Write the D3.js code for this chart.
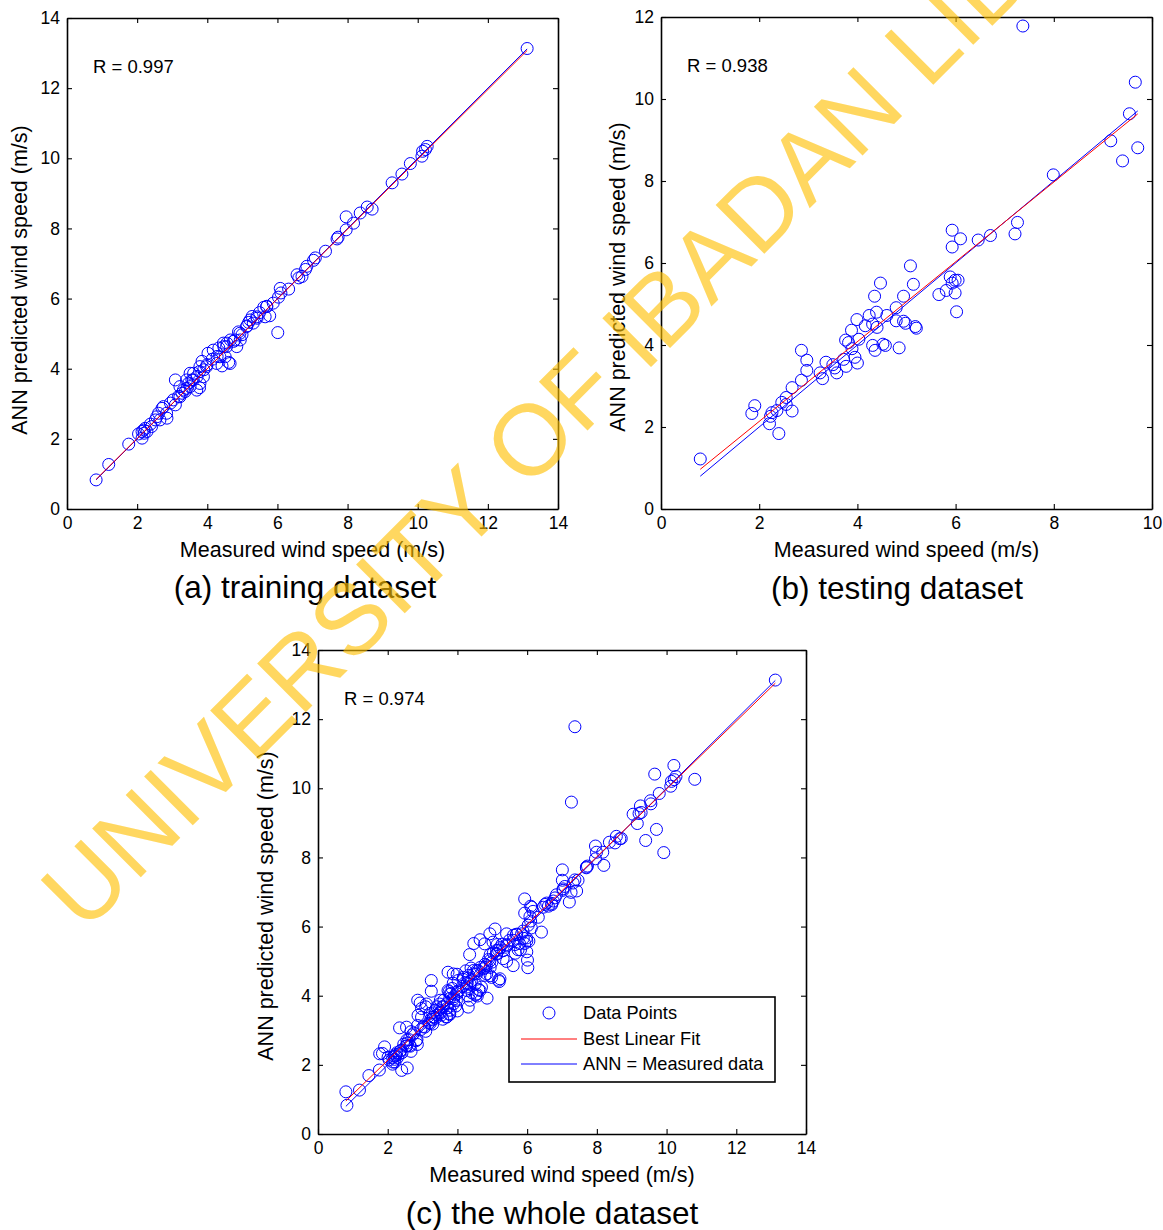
<!DOCTYPE html>
<html>
<head>
<meta charset="utf-8">
<script src="https://cdn.jsdelivr.net/npm/d3@7"></script>
<style>
  body { margin: 0; background: #fff; }
</style>
</head>
<body>
<div id="chart"></div>
<script>
// points: [measured, ANN predicted]
var trainPts = [
  [13.12,13.13],[10.27,10.34],[10.14,10.20],[10.12,10.06],[10.22,10.25],[9.79,9.85],[9.55,9.55],[9.27,9.30],
  [8.70,8.55],[8.56,8.61],[8.36,8.44],[8.17,8.15],[7.96,8.33],[7.96,7.96],[7.70,7.70],[7.73,7.75],[7.37,7.35],
  [7.08,7.16],[7.03,7.09],[6.84,6.92],[6.80,6.83],[6.70,6.63],[6.61,6.59],[6.56,6.68],[6.32,6.27],[6.08,6.29],
  [6.10,6.16],[6.03,6.04],[6.01,5.03],[5.78,5.51],[5.70,5.78],[5.61,5.75],[5.49,5.60],[5.42,5.44],[5.28,5.49],
  [5.18,5.32],[5.13,5.22],[4.99,4.97],[4.94,4.82],[4.89,5.05],[4.75,4.78],[4.66,4.82],[4.56,4.73],[4.47,4.63],
  [4.33,4.59],[4.61,4.18],[4.42,4.08],[4.28,4.35],[4.14,4.27],[4.02,4.44],[3.99,4.11],[3.85,4.21],[3.90,3.97],
  [3.78,3.92],[3.71,3.78],[3.78,3.46],[3.61,3.87],[3.56,3.68],[3.47,3.59],[3.42,3.44],[3.37,3.35],[3.28,3.30],
  [3.09,3.68],[3.18,3.21],[3.09,2.97],[2.95,3.02],[2.85,2.59],[2.71,2.87],[2.61,2.73],[2.52,2.54],[2.38,2.42],
  [2.23,2.30],[2.14,2.21],[2.14,2.02],[2.04,2.14],[2.28,2.21],[2.20,2.16],[2.19,2.25],[1.76,1.85],[1.19,1.27],
  [0.83,0.83],[2.56,2.63],[2.84,2.73],[2.75,2.92],[3.03,3.11],[3.22,3.20],[3.32,3.39],[3.51,3.49],[3.60,3.68],
  [3.51,3.87],[3.79,3.58],[3.70,3.39],[3.89,3.77],[3.98,4.06],[4.27,4.15],[4.36,4.34],[4.55,4.63],[4.65,4.15],
  [4.46,4.73],[4.79,4.82],[4.93,5.01],[4.84,4.63],[5.12,5.20],[5.22,5.39],[5.41,5.48],[5.31,5.30],[5.65,5.48],
  [5.69,5.77],[5.88,5.87],[3.41,3.68],[3.22,3.49],[3.79,4.06],[4.17,4.53],[4.51,4.34],[2.41,2.35],[2.65,2.54]
];

var testPts = [
  [7.37,11.78],[9.66,10.41],[9.54,9.64],[9.16,8.98],[9.71,8.81],[9.40,8.49],[7.99,8.15],[7.26,6.99],[7.21,6.71],
  [6.71,6.67],[6.46,6.56],[5.93,6.80],[6.10,6.59],[5.93,6.39],[5.08,5.93],[4.47,5.51],[5.14,5.48],[4.35,5.19],
  [4.94,5.19],[5.66,5.23],[5.81,5.33],[5.89,5.66],[5.99,5.58],[6.05,5.58],[5.93,5.51],[5.99,5.27],[6.02,4.81],
  [4.79,4.91],[4.60,4.72],[4.39,4.80],[4.24,4.72],[3.99,4.62],[4.16,4.47],[4.31,4.51],[4.40,4.43],[4.79,4.59],
  [4.94,4.58],[4.98,4.53],[5.18,4.45],[5.20,4.41],[3.88,4.36],[4.03,4.14],[3.76,4.12],[3.82,4.06],[4.31,3.99],
  [4.36,3.87],[4.52,4.02],[4.57,3.99],[4.85,3.93],[3.89,3.91],[3.95,3.70],[4.00,3.56],[3.77,3.48],[3.72,3.65],
  [2.86,3.87],[2.97,3.63],[2.97,3.38],[2.86,3.14],[3.36,3.58],[3.24,3.32],[3.29,3.18],[3.50,3.52],[3.54,3.44],
  [3.58,3.32],[2.67,2.96],[2.55,2.72],[2.46,2.60],[2.55,2.55],[2.67,2.39],[2.36,2.40],[2.26,2.35],[2.23,2.26],
  [2.21,2.08],[2.40,1.84],[1.91,2.52],[1.85,2.33],[0.80,1.22]
];

// extra points that only appear in the whole dataset
var validPts = [
  [7.27,9.60],[10.21,10.66],[10.81,10.26],[9.92,8.14],[9.25,9.49],[8.20,7.77],[7.01,7.64],[7.01,7.34],[7.42,7.03],
  [6.41,5.84],[6.13,6.56],[4.31,3.67],[3.25,4.44],[3.25,4.13],[2.34,3.07],[2.54,3.09],[2.56,1.91],[1.46,1.69],
  [3.73,4.68],[3.88,4.63],[5.60,4.87],[5.22,4.49],[4.78,5.50],[4.93,5.79],[2.87,3.43],[3.11,3.76],[4.65,5.62],
  [2.93,3.79],[4.27,4.37],[5.03,5.24],[9.04,9.25],[9.21,9.27],[8.66,8.54],[8.52,8.42],[7.70,7.72],[7.46,7.34],
  [7.32,7.26],[7.03,7.05],[6.75,6.74],[6.51,6.64],[6.17,6.44],[6.12,5.96],[5.98,5.67],[5.74,5.33],[5.41,4.99],
  [4.69,4.25],[4.55,4.05],[4.26,4.25],[3.97,3.86],[3.73,4.15],[3.49,3.76],[3.68,3.38],[3.30,3.38],[3.06,3.09],
  [2.82,2.70],[2.63,2.56],[2.34,2.32],[2.15,2.08],[2.01,2.22],[1.77,2.32],[5.12,5.31],[4.83,4.87],[5.31,5.07],
  [5.60,5.60],[5.84,5.79],[5.41,5.79],[5.02,5.55]
];

var allPts = trainPts.concat(testPts, validPts);

// best linear fit per panel (a, b, c)
var fitSlope = [0.995, 0.973, 0.981];
var fitIntercept = [0.02, 0.19, 0.17];
var rValues = ["0.997", "0.938", "0.974"];
var panelTitles = ["(a) training dataset", "(b) testing dataset", "(c) the whole dataset"];
var ticks14 = [0, 2, 4, 6, 8, 10, 12, 14];
var ticks12 = [0, 2, 4, 6, 8, 10, 12];
var ticks10 = [0, 2, 4, 6, 8, 10];
var legendLabels = ["Data Points", "Best Linear Fit", "ANN = Measured data"];

var FONT = "'Liberation Sans', Arial, Helvetica, sans-serif";

var svg = d3.select("#chart")
    .append("svg")
    .attr("width", 1163)
    .attr("height", 1230)
    .style("font-family", FONT);

svg.append("rect").attr("width", 1163).attr("height", 1230).attr("fill", "#fff");

var panels = [
  { left: 67, top: 18, w: 491, h: 491, xMax: 14, yMax: 14, xTicks: ticks14, yTicks: ticks14,
    pts: trainPts, k: 0, titleX: 305, titleY: 598, yLabX: 27, yLabY: 280, legend: false },
  { left: 661, top: 17, w: 491, h: 492, xMax: 10, yMax: 12, xTicks: ticks10, yTicks: ticks12,
    pts: testPts, k: 1, titleX: 897, titleY: 599, yLabX: 625, yLabY: 277, legend: false },
  { left: 318, top: 650, w: 488, h: 484, xMax: 14, yMax: 14, xTicks: ticks14, yTicks: ticks14,
    pts: allPts, k: 2, titleX: 552, titleY: 1224, yLabX: 273, yLabY: 906, legend: true }
];

panels.forEach(drawPanel);

function drawPanel(p) {
    var g = svg.append("g")
        .attr("transform", "translate(" + p.left + "," + p.top + ")");

    var x = d3.scaleLinear().domain([0, p.xMax]).range([0, p.w]);
    var y = d3.scaleLinear().domain([0, p.yMax]).range([p.h, 0]);

    // data points
    g.selectAll("circle.pt")
        .data(p.pts)
        .enter()
        .append("circle")
        .attr("class", "pt")
        .attr("cx", function (d) { return x(d[0]); })
        .attr("cy", function (d) { return y(d[1]); })
        .attr("r", 6)
        .attr("fill", "none")
        .attr("stroke", "#0000ff")
        .attr("stroke-width", 1);

    // y = x line and best fit line over the data range
    var ext = d3.extent(p.pts, function (d) { return d[0]; });
    var line = d3.line()
        .x(function (d) { return x(d[0]); })
        .y(function (d) { return y(d[1]); });
    var slope = fitSlope[p.k], icpt = fitIntercept[p.k];

    g.append("path")
        .attr("d", line([[ext[0], ext[0]], [ext[1], ext[1]]]))
        .attr("stroke", "#0000ff")
        .attr("stroke-width", 1)
        .attr("fill", "none");
    g.append("path")
        .attr("d", line([[ext[0], slope * ext[0] + icpt], [ext[1], slope * ext[1] + icpt]]))
        .attr("stroke", "#ff0000")
        .attr("stroke-width", 1)
        .attr("fill", "none");

    // axes with inward ticks on all four sides
    g.append("g")
        .attr("transform", "translate(0," + p.h + ")")
        .call(d3.axisBottom(x).tickValues(p.xTicks).tickSizeInner(-5).tickSizeOuter(0).tickPadding(8));
    g.append("g")
        .call(d3.axisLeft(y).tickValues(p.yTicks).tickSizeInner(-5).tickSizeOuter(0).tickPadding(7));
    g.append("g")
        .call(d3.axisTop(x).tickValues(p.xTicks).tickSizeInner(-5).tickSizeOuter(0).tickFormat(""));
    g.append("g")
        .attr("transform", "translate(" + p.w + ",0)")
        .call(d3.axisRight(y).tickValues(p.yTicks).tickSizeInner(-5).tickSizeOuter(0).tickFormat(""));

    g.selectAll(".domain").attr("stroke", "#000").attr("stroke-width", 1.6);
    g.selectAll(".tick line").attr("stroke", "#000").attr("stroke-width", 1.1);
    g.selectAll("g").attr("font-family", null).attr("font-size", null);
    g.selectAll(".tick text")
        .attr("fill", "#000")
        .style("font-family", FONT)
        .style("font-size", "17.5px");

    // R value
    g.append("text")
        .attr("x", 26)
        .attr("y", 55)
        .style("font-size", "18.5px")
        .text("R = " + rValues[p.k]);

    // axis labels
    svg.append("text")
        .attr("x", p.left + p.w / 2)
        .attr("y", p.top + p.h + 48)
        .attr("text-anchor", "middle")
        .style("font-size", "21.5px")
        .text("Measured wind speed (m/s)");
    svg.append("text")
        .attr("transform", "translate(" + p.yLabX + "," + p.yLabY + ") rotate(-90)")
        .attr("text-anchor", "middle")
        .style("font-size", "21.5px")
        .text("ANN predicted wind speed (m/s)");

    // panel title
    svg.append("text")
        .attr("x", p.titleX)
        .attr("y", p.titleY)
        .attr("text-anchor", "middle")
        .style("font-size", "31.5px")
        .text(panelTitles[p.k]);

    if (p.legend) {
        var lg = g.append("g").attr("transform", "translate(191,347)");
        lg.append("rect")
            .attr("width", 266)
            .attr("height", 85)
            .attr("fill", "#fff")
            .attr("stroke", "#000")
            .attr("stroke-width", 1.6);
        lg.append("circle")
            .attr("cx", 40).attr("cy", 16).attr("r", 6)
            .attr("fill", "none").attr("stroke", "#0000ff");
        lg.append("line")
            .attr("x1", 12).attr("x2", 68).attr("y1", 42).attr("y2", 42)
            .attr("stroke", "#ff0000");
        lg.append("line")
            .attr("x1", 12).attr("x2", 68).attr("y1", 67).attr("y2", 67)
            .attr("stroke", "#0000ff");
        lg.selectAll("text.lab")
            .data(legendLabels)
            .enter()
            .append("text")
            .attr("class", "lab")
            .attr("x", 74)
            .attr("y", function (d, i) { return [22, 48, 73][i]; })
            .style("font-size", "18.2px")
            .text(function (d) { return d; });
    }
}

// library watermark on top
svg.append("text")
    .attr("transform", "translate(84,934) rotate(-45)")
    .style("font-size", "100px")
    .attr("fill", "#ffc000")
    .attr("opacity", 0.62)
    .text("UNIVERSITY OF IBADAN LIBRARY");
</script>
</body>
</html>
